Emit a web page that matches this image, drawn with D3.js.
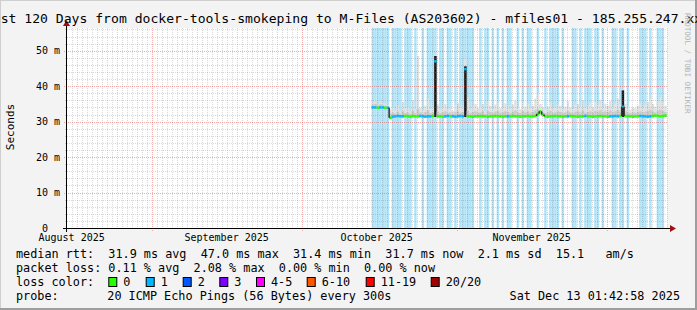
<!DOCTYPE html>
<html>
<head>
<meta charset="utf-8">
<script src="https://cdn.jsdelivr.net/npm/d3@7"></script>
<style>
body { margin: 0; background: #f3f3f3; }
svg { display: block; }
text { font-family: "DejaVu Sans Mono", monospace; fill: #000; }
</style>
</head>
<body>
<svg width="697" height="310"></svg>
<script>
var svg = d3.select('svg');

// time range of the graph (last 120 days)
var endTime = new Date(Date.UTC(2025, 11, 13, 1, 42, 58));
var startTime = new Date(+endTime - 120 * 864e5);

// first 12h bin with data
var firstBin = new Date(Date.UTC(2025, 9, 15, 0, 0, 0));
var binHours = 12;

var monthLabels = [
    {date: "2025-08-16", text: "August 2025"},
    {date: "2025-09-16", text: "September 2025"},
    {date: "2025-10-16", text: "October 2025"},
    {date: "2025-11-16", text: "November 2025"}
];
var yTicks = [0, 10, 20, 30, 40, 50];
var yTickLabels = ["0", "10 m", "20 m", "30 m", "40 m", "50 m"];

// median rtt per 12h bin (ms)
var median = [34.0, 34.0, 33.9, 34.0, 34.0, 33.9, 33.9, 31.1, 31.4, 31.5, 31.6, 31.5, 31.5, 31.6, 31.5, 31.4,
    31.6, 31.5, 31.5, 31.6, 31.5, 31.4, 31.5, 31.5, 31.6, 47.0, 31.5, 31.5, 31.4, 31.5, 31.6, 31.5,
    31.5, 31.4, 31.5, 31.6, 31.5, 44.8, 31.5, 31.5, 31.4, 31.5, 31.5, 31.6, 31.5, 31.5, 31.4, 31.5,
    31.5, 31.6, 31.5, 31.5, 31.4, 31.5, 31.5, 31.5, 31.6, 31.5, 31.5, 31.4, 31.5, 31.5, 31.6, 31.5,
    31.5, 31.6, 32.2, 32.9, 32.0, 31.5, 31.4, 31.5, 31.5, 31.6, 31.5, 31.5, 31.4, 31.5, 31.5, 31.6,
    31.5, 31.5, 31.4, 31.5, 31.5, 31.6, 31.5, 31.5, 31.4, 31.5, 31.5, 31.6, 31.5, 31.5, 31.4, 31.5,
    31.5, 31.6, 31.5, 31.6, 34.2, 31.6, 31.5, 31.5, 31.4, 31.5, 31.5, 31.6, 31.5, 31.5, 31.4, 31.5,
    31.6, 31.7, 31.6, 31.5, 31.6, 31.7];
// loss colour class of the median line (0 = no loss, 1 = 1/20)
var medianLoss = [1, 1, 0, 1, 1, 0, 1, 0,
    1, 1, 1, 1, 1, 0, 0, 0,
    0, 0, 0, 1, 1, 1, 1, 1,
    0, 1, 0, 0, 0, 1, 1, 0,
    1, 1, 1, 1, 1, 1, 0, 0,
    0, 0, 0, 0, 0, 0, 0, 0,
    0, 0, 0, 0, 0, 0, 1, 0,
    0, 0, 0, 0, 0, 0, 0, 0,
    0, 0, 0, 0, 0, 0, 0, 0,
    0, 0, 0, 0, 0, 0, 1, 0,
    0, 0, 0, 0, 0, 1, 0, 0,
    0, 0, 0, 0, 0, 0, 0, 1,
    1, 1, 1, 0, 1, 0, 0, 0,
    0, 0, 0, 1, 1, 1, 1, 1,
    0, 0, 0, 0, 0, 0];
// bins with any packet loss (background bars)
var lossBars = [1, 1, 1, 1, 1, 1, 1, 0,
    1, 1, 1, 1, 0, 1, 1, 1,
    0, 1, 0, 0, 1, 0, 1, 1,
    1, 1, 0, 1, 1, 0, 1, 1,
    0, 1, 0, 1, 1, 1, 1, 1,
    1, 0, 0, 1, 0, 1, 1, 0,
    1, 0, 1, 0, 1, 0, 1, 1,
    0, 0, 1, 0, 1, 0, 1, 1,
    0, 0, 1, 0, 0, 1, 0, 1,
    1, 1, 1, 0, 1, 0, 0, 0,
    1, 1, 0, 1, 0, 1, 1, 1,
    0, 1, 1, 0, 1, 0, 0, 0,
    1, 1, 0, 1, 1, 0, 1, 0,
    0, 0, 0, 1, 1, 1, 0, 1,
    0, 0, 1, 1, 1, 0];
// smoke: lower edge, upper edge of outer (light) and inner (darker) band, ms
var smokeLo = [33.6, 33.6, 33.5, 33.6, 33.6, 33.5, 33.4, 30.8, 31.1, 31.2, 31.2, 31.2, 31.2, 31.2, 31.2, 31.1,
    31.2, 31.2, 31.2, 31.2, 31.2, 31.1, 31.2, 31.2, 31.2, 31.3, 31.2, 31.2, 31.1, 31.2, 31.2, 31.2,
    31.2, 31.1, 31.2, 31.2, 31.2, 31.3, 31.2, 31.2, 31.1, 31.2, 31.2, 31.2, 31.2, 31.2, 31.1, 31.2,
    31.2, 31.2, 31.2, 31.2, 31.1, 31.2, 31.2, 31.2, 31.2, 31.2, 31.2, 31.1, 31.2, 31.2, 31.2, 31.2,
    31.2, 31.2, 31.6, 32.0, 31.5, 31.2, 31.1, 31.2, 31.2, 31.2, 31.2, 31.2, 31.1, 31.2, 31.2, 31.2,
    31.2, 31.2, 31.1, 31.2, 31.2, 31.2, 31.2, 31.2, 31.1, 31.2, 31.2, 31.2, 31.2, 31.2, 31.1, 31.2,
    31.2, 31.2, 31.2, 31.2, 31.3, 31.2, 31.2, 31.2, 31.1, 31.2, 31.2, 31.2, 31.2, 31.2, 31.1, 31.2,
    31.2, 31.3, 31.2, 31.2, 31.2, 31.3];
var smokeHi = [35.5, 36.0, 35.0, 35.8, 35.2, 35.0, 34.8, 33.5, 34.0, 33.2, 34.5, 33.0, 35.5, 33.8, 34.2, 33.0,
    36.0, 33.5, 48.5, 34.0, 33.2, 34.5, 36.5, 33.5, 34.0, 48.8, 34.8, 33.5, 34.2, 35.0, 33.5, 34.0,
    33.0, 34.5, 35.2, 33.8, 34.5, 47.5, 36.8, 33.5, 34.5, 35.0, 33.8, 34.2, 35.0, 33.0, 36.0, 34.5,
    33.5, 34.8, 35.5, 33.8, 34.0, 35.2, 34.5, 33.5, 34.8, 36.0, 34.0, 33.5, 35.5, 34.2, 35.0, 33.8,
    34.5, 36.5, 38.0, 35.0, 34.0, 33.5, 34.2, 35.5, 33.8, 34.0, 35.0, 34.5, 33.5, 34.2, 35.8, 34.0,
    33.5, 34.8, 35.0, 34.2, 36.0, 33.8, 34.5, 35.2, 34.0, 35.5, 34.8, 36.2, 34.0, 35.0, 34.5, 35.8,
    34.2, 35.0, 36.5, 34.8, 39.5, 35.0, 34.2, 33.5, 34.0, 33.8, 34.5, 35.2, 34.0, 34.8, 35.5, 36.5,
    35.0, 34.2, 35.8, 36.8, 35.5, 34.5];
var smokeMid = [34.8, 35.0, 34.6, 34.9, 34.7, 34.5, 34.3, 32.3, 32.5, 32.3, 32.8, 32.2, 32.9, 32.4, 32.6, 32.2,
    33.0, 32.4, 33.5, 32.6, 32.3, 32.7, 33.2, 32.4, 32.6, 48.5, 32.8, 32.4, 32.6, 32.9, 32.4, 32.6,
    32.2, 32.7, 32.9, 32.5, 32.7, 45.6, 33.0, 32.4, 32.7, 32.9, 32.5, 32.6, 32.9, 32.2, 33.0, 32.7,
    32.4, 32.8, 33.0, 32.5, 32.6, 32.9, 32.7, 32.4, 32.8, 33.1, 32.6, 32.4, 33.0, 32.6, 32.9, 32.5,
    32.7, 33.2, 33.6, 33.0, 32.6, 32.4, 32.6, 33.0, 32.5, 32.6, 32.9, 32.7, 32.4, 32.6, 33.0, 32.6,
    32.4, 32.8, 32.9, 32.6, 33.1, 32.5, 32.7, 32.9, 32.6, 33.0, 32.8, 33.2, 32.6, 32.9, 32.7, 33.1,
    32.6, 32.9, 33.3, 32.8, 38.8, 32.9, 32.6, 32.4, 32.6, 32.5, 32.7, 32.9, 32.6, 32.8, 33.0, 33.4,
    32.9, 32.6, 33.1, 33.4, 33.0, 32.7];

var lossColors = ["#26ff00", "#00b8ff", "#0059ff", "#7e00ff", "#ff00ff", "#ff5500", "#ff0000", "#a10000"];
var lossNames = ["0", "1", "2", "3", "4-5", "6-10", "11-19", "20/20"];

var legendRows = [
    "median rtt:  31.9 ms avg  47.0 ms max  31.4 ms min  31.7 ms now  2.1 ms sd  15.1   am/s",
    "packet loss: 0.11 % avg  2.08 % max  0.00 % min  0.00 % now"
];
var probeText = "20 ICMP Echo Pings (56 Bytes) every 300s";
var stampText = "Sat Dec 13 01:42:58 2025";
var titleText = "Last 120 Days from docker-tools-smokeping to M-Files (AS203602) - mfiles01 - 185.255.247.xxx";

var pLeft = 67, pTop = 28, pw = 600, ph = 200;
var x = d3.scaleUtc().domain([startTime, endTime]).range([pLeft, pLeft + pw]);
var y = d3.scaleLinear().domain([0, 56.4]).range([pTop + ph, pTop]);
var parse = d3.utcParse("%Y-%m-%d");

function binStart(i) { return new Date(+firstBin + i * binHours * 3600e3); }
function binEnd(i) { return new Date(+firstBin + (i + 1) * binHours * 3600e3); }

// frame
svg.append('rect').attr('width', 697).attr('height', 310).attr('fill', '#f3f3f3');
svg.append('rect').attr('x', 695).attr('y', 0).attr('width', 2).attr('height', 310).attr('fill', '#9e9e9e');
svg.append('rect').attr('x', 0).attr('y', 308).attr('width', 697).attr('height', 2).attr('fill', '#9e9e9e');
svg.append('rect').attr('x', 0).attr('y', 0).attr('width', 695).attr('height', 1).attr('fill', '#cfcfcf');
svg.append('rect').attr('x', 0).attr('y', 0).attr('width', 1).attr('height', 308).attr('fill', '#cfcfcf');

// canvas
svg.append('rect').attr('x', pLeft).attr('y', pTop).attr('width', pw).attr('height', ph).attr('fill', '#fff');

// loss background bars
svg.append('g').selectAll('rect')
    .data(lossBars.map(function(v, i) { return {v: v, i: i}; }).filter(function(d) { return d.v > 0; }))
    .enter()
    .append('rect')
    .attr('x', function(d) { return x(binStart(d.i)); })
    .attr('width', function(d) { return x(binEnd(d.i)) - x(binStart(d.i)); })
    .attr('y', pTop)
    .attr('height', ph)
    .attr('fill', '#b0e4f9');

// smoke
var bins = median.map(function(m, i) { return i; });
function smokeArea(hi, shade) {
    svg.append('g').selectAll('rect')
        .data(bins)
        .enter()
        .append('rect')
        .attr('x', function(i) { return x(binStart(i)); })
        .attr('width', function(i) { return x(binEnd(i)) - x(binStart(i)); })
        .attr('y', function(i) { return y(hi[i]); })
        .attr('height', function(i) { return Math.max(0, y(smokeLo[i]) - y(hi[i])); })
        .attr('fill', function(i) { return shade(i); });
}
smokeArea(smokeHi, function() { return '#e2e2e2'; });
smokeArea(smokeMid, function(i) { return smokeMid[i] > 38 ? '#1a1a1a' : '#cacaca'; });

// grid
var gridG = svg.append('g').attr('shape-rendering', 'crispEdges');
var monthStarts = d3.utcMonth.range(startTime, endTime);
var days = d3.utcDay.range(startTime, endTime).filter(function(d) { return d.getUTCDate() !== 1; });
gridG.selectAll('.vmin').data(days).enter().append('line')
    .attr('x1', function(d) { return Math.round(x(d)) + 0.5; })
    .attr('x2', function(d) { return Math.round(x(d)) + 0.5; })
    .attr('y1', pTop).attr('y2', pTop + ph)
    .attr('stroke', 'rgba(128,128,128,0.3)').attr('stroke-dasharray', '1,1');
var minorY = d3.range(2, 57, 2).filter(function(v) { return v % 10 !== 0; });
gridG.selectAll('.hmin').data(minorY).enter().append('line')
    .attr('x1', pLeft - 2).attr('x2', pLeft + pw)
    .attr('y1', function(v) { return Math.round(y(v)) + 0.5; })
    .attr('y2', function(v) { return Math.round(y(v)) + 0.5; })
    .attr('stroke', 'rgba(128,128,128,0.3)').attr('stroke-dasharray', '1,1');
gridG.selectAll('.vmaj').data(monthStarts).enter().append('line')
    .attr('x1', function(d) { return Math.round(x(d)) + 0.5; })
    .attr('x2', function(d) { return Math.round(x(d)) + 0.5; })
    .attr('y1', pTop).attr('y2', pTop + ph + 3)
    .attr('stroke', 'rgba(230,60,60,0.4)').attr('stroke-dasharray', '1,1');
gridG.selectAll('.hmaj').data(yTicks.slice(1)).enter().append('line')
    .attr('x1', pLeft - 3).attr('x2', pLeft + pw)
    .attr('y1', function(v) { return Math.round(y(v)) + 0.5; })
    .attr('y2', function(v) { return Math.round(y(v)) + 0.5; })
    .attr('stroke', 'rgba(230,60,60,0.45)').attr('stroke-dasharray', '1,1');

// median line, coloured by loss
var medG = svg.append('g');
bins.forEach(function(i) {
    var c = lossColors[medianLoss[i]];
    medG.append('line')
        .attr('x1', x(binStart(i))).attr('x2', x(binEnd(i)))
        .attr('y1', y(median[i])).attr('y2', y(median[i]))
        .attr('stroke', c).attr('stroke-width', 2.5);
    if (i > 0 && Math.abs(median[i] - median[i - 1]) > 0.3 && Math.abs(median[i] - median[i - 1]) < 5) {
        medG.append('line')
            .attr('x1', x(binStart(i))).attr('x2', x(binStart(i)))
            .attr('y1', y(median[i - 1])).attr('y2', y(median[i]))
            .attr('stroke', '#333').attr('stroke-width', 1.5);
    }
});

// axes
var axG = svg.append('g').attr('shape-rendering', 'crispEdges');
axG.append('line').attr('x1', pLeft - 4).attr('x2', pLeft + pw + 4)
    .attr('y1', pTop + ph + 0.5).attr('y2', pTop + ph + 0.5).attr('stroke', '#000');
axG.append('line').attr('x1', pLeft - 0.5).attr('x2', pLeft - 0.5)
    .attr('y1', pTop + ph + 4).attr('y2', pTop - 4).attr('stroke', '#000');
svg.append('path').attr('d', 'M' + (pLeft + pw + 3) + ',' + (pTop + ph - 3) + 'l6,3.5l-6,3.5z').attr('fill', '#a01010');
svg.append('path').attr('d', 'M' + (pLeft - 4) + ',' + (pTop - 2) + 'l3.5,-6l3.5,6z').attr('fill', '#a01010');

// y tick labels
svg.append('g').selectAll('text')
    .data(yTicks)
    .enter()
    .append('text')
    .attr('x', function(v, i) { return i === 0 ? 48 : 60; })
    .attr('y', function(v) { return y(v) + 3.5; })
    .attr('text-anchor', 'end')
    .style('font-size', '10px')
    .text(function(v, i) { return yTickLabels[i]; });

// x labels
svg.append('g').selectAll('text')
    .data(monthLabels)
    .enter()
    .append('text')
    .attr('x', function(d) { return x(parse(d.date)); })
    .attr('y', 241)
    .attr('text-anchor', 'middle')
    .style('font-size', '10px')
    .text(function(d) { return d.text; });

// title
svg.append('text').attr('x', 347.5).attr('y', 23).attr('text-anchor', 'middle')
    .style('font-size', '13.1px').text(titleText);

// vertical label
svg.append('text').attr('transform', 'translate(14,127) rotate(-90)').attr('text-anchor', 'middle')
    .style('font-size', '11px').text('Seconds');

// side credit
svg.append('text').attr('transform', 'translate(685,13) rotate(90)')
    .style('font-size', '7.6px').style('fill', '#b4b4b4').text('RRDTOOL / TOBI OETIKER');

// legend
var lg = svg.append('g').style('font-size', '11.8px');
legendRows.forEach(function(r, i) {
    lg.append('text').attr('xml:space', 'preserve').attr('x', 16).attr('y', 258 + i * 14).text(r);
});
lg.append('text').attr('x', 16).attr('y', 286).text('loss color:');
var boxX = [108.3, 145.7, 182.7, 219.3, 256, 306.7, 365.7, 430.7];
lossColors.forEach(function(c, i) {
    lg.append('rect').attr('x', boxX[i] + 0.5).attr('y', 277.5).attr('width', 8).attr('height', 9)
        .attr('fill', c).attr('stroke', '#000').attr('stroke-width', 1);
    lg.append('text').attr('x', boxX[i] + 15).attr('y', 286).text(lossNames[i]);
});
lg.append('text').attr('x', 16).attr('y', 300).text('probe:');
lg.append('text').attr('x', 107.3).attr('y', 300).text(probeText);
lg.append('text').attr('x', 680).attr('y', 300).attr('text-anchor', 'end').text(stampText);
</script>
</body>
</html>
